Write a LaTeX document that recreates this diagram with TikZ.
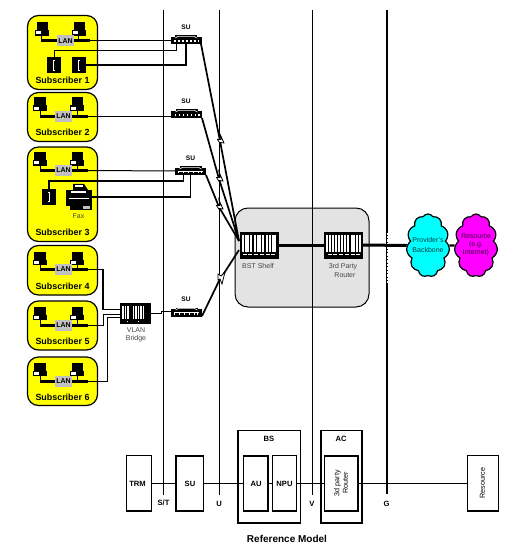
\documentclass[tikz,border=0pt]{standalone}
\usepackage{fontspec}
\setmainfont{Liberation Sans}
\usetikzlibrary{shapes.symbols}
\definecolor{subyellow}{RGB}{255,255,0}
\definecolor{lanGray}{RGB}{192,192,192}
\definecolor{shelfGray}{RGB}{227,227,227}
\definecolor{cloudCyan}{RGB}{0,255,255}
\definecolor{cloudMag}{RGB}{255,0,255}
\definecolor{capGray}{RGB}{70,70,70}
\tikzset{
  x=1pt,y=-1pt,
  subbox/.style={draw=black,line width=1.2pt,fill=subyellow,rounded corners=11pt},
  subtitle/.style={font=\fontsize{8.9}{10}\selectfont\bfseries,inner sep=0},
  lanlabel/.style={fill=lanGray,font=\fontsize{7}{8}\selectfont\bfseries,inner sep=0,minimum width=17pt,minimum height=11pt},
  bus/.style={line width=3pt},
  wire/.style={line width=1pt},
  wirethick/.style={line width=1.6pt},
  refline/.style={line width=0.7pt},
  radiolink/.style={line width=1.7pt},
  boltshape/.style={draw=black,fill=white,line width=0.8pt},
  caption/.style={font=\fontsize{7}{8.2}\selectfont,text=capGray,inner sep=0,align=center},
  sulabel/.style={font=\fontsize{6.6}{7}\selectfont\bfseries,inner sep=0},
  refbox/.style={draw=black,fill=white,line width=1.1pt},
  refboxthick/.style={draw=black,fill=white,line width=1.7pt},
  reftext/.style={font=\fontsize{7.6}{8}\selectfont\bfseries,inner sep=0},
  cloudnode/.style={cloud,cloud puffs=11,cloud puff arc=115,aspect=0.68,draw=black,line width=1.2pt,inner sep=0,minimum width=43pt,minimum height=63pt},
  pc/.pic={
    \fill[black] (-5.5,-8) rectangle (6,0);
    \fill[black] (-7,0) rectangle (7,5.7);
    \fill[white] (-6,1.5) rectangle (-1,4.5);
  },
  phone/.pic={
    \fill[black] (-7,-8) rectangle (7,8);
    \draw[white,line width=0.8pt] (0.5,-5) -- (-1,-5) -- (-1,5) -- (0.5,5);
  },
  phonei/.pic={
    \fill[black] (-7,-8) rectangle (7,8);
    \draw[white,line width=0.7pt] (-1,-4.5) -- (1,-4.5) (0,-4.5) -- (0,4.5) (-1,4.5) -- (1,4.5);
  },
  suicon/.pic={
    \fill[black] (-15.5,-3) rectangle (15.5,4.5);
    \fill[black] (-11,-4.5) rectangle (11,-3);
    \draw[white,line width=0.6pt] (-11,-2) -- (-8,-3.6) -- (8,-3.6) -- (11,-2);
    \foreach \k in {-11,-7,-3,1,5,9,12.5} \fill[white] (\k-0.6,0.4) rectangle (\k+0.6,1.8);
  },
  suiconb/.pic={
    \fill[black] (-15.5,-3) rectangle (15.5,4.5);
    \fill[black] (-11,-4.5) rectangle (11,-3);
    \draw[white,line width=0.6pt] (-11,-2) -- (-8,-3.6) -- (8,-3.6) -- (11,-2);
    \fill[white] (-12,0) rectangle (12,1);
    \foreach \k in {-12,-7,-2,3,8,11} \fill[white] (\k-0.7,0) rectangle (\k+0.7,2.5);
  },
  rack/.pic={
    \fill[black] (-19.5,-13.5) rectangle (19.5,13.5);
    \foreach \k in {-16.2,-13.4,-10.6,-7.8,-4.2,-1.4,1.4,4.2,8,10.8,13.6,16.4}
      \fill[white] (\k-1,-11) rectangle (\k+1,6);
    \foreach \k in {-14,-9,-3,3,9,14} \fill[white] (\k-2,8.7) rectangle (\k+2,9.6);
  },
}
\begin{document}
\begin{tikzpicture}
\useasboundingbox (0,0) rectangle (512,553);
\fill[white] (0,0) rectangle (512,553);
% subscriber boxes
\path[subbox] (27.5,15.5) rectangle (97.5,89.5);
\path[subbox] (27.5,92.5) rectangle (97.5,141.5);
\path[subbox] (27.5,147) rectangle (97.5,241.5);
\path[subbox] (27.5,245.5) rectangle (97.5,295);
\path[subbox] (27.5,301) rectangle (97.5,350);
\path[subbox] (27.5,357) rectangle (97.5,405.5);
\node[subtitle] at (62.5,80) {Subscriber 1};
\node[subtitle] at (62.5,132) {Subscriber 2};
\node[subtitle] at (62.5,232) {Subscriber 3};
\node[subtitle] at (62.5,286) {Subscriber 4};
\node[subtitle] at (62.5,341) {Subscriber 5};
\node[subtitle] at (62.5,397) {Subscriber 6};
% shelf panel
\path[draw=black,line width=1pt,fill=shelfGray,rounded corners=13pt] (235,208) rectangle (369,307);
% reference lines
\coordinate (st0) at (163.5,10); \coordinate (st1) at (163.5,495);
\coordinate (u0) at (219.5,10); \coordinate (u1) at (219.5,495);
\coordinate (v0) at (312,10); \coordinate (v1) at (312,495);
\coordinate (g0) at (386.7,10); \coordinate (g1) at (386.7,494);
\draw[refline] (st0) -- (st1);
\draw[refline] (u0) -- (u1);
\draw[refline] (v0) -- (v1);
\draw[line width=2pt] (g0) -- (g1);
\draw[white,densely dotted,line width=0.4pt] (387.6,233) -- (387.6,283);
% PCs and LAN
\pic at (42,30) {pc}; \pic at (79,30) {pc};
\pic at (39.5,105.3) {pc}; \pic at (77,105.3) {pc};
\pic at (39.5,160) {pc}; \pic at (77,160) {pc};
\pic at (39.5,259.7) {pc}; \pic at (77,259.7) {pc};
\pic at (39.5,314.7) {pc}; \pic at (77,314.7) {pc};
\pic at (39.5,370.7) {pc}; \pic at (77,370.7) {pc};
\coordinate (b1l) at (41,41); \coordinate (b1r) at (90,41);
\coordinate (b2l) at (39.5,116.5); \coordinate (b2r) at (88,116.5);
\coordinate (b3l) at (39.5,170.5); \coordinate (b3r) at (88,170.5);
\coordinate (b4l) at (39.5,269.5); \coordinate (b4r) at (88,269.5);
\coordinate (b5l) at (39.5,325.5); \coordinate (b5r) at (88,325.5);
\coordinate (b6l) at (39.5,381); \coordinate (b6r) at (88,381);
\draw[bus] (b1l) -- (b1r); \draw[bus] (b2l) -- (b2r); \draw[bus] (b3l) -- (b3r);
\draw[bus] (b4l) -- (b4r); \draw[bus] (b5l) -- (b5r); \draw[bus] (b6l) -- (b6r);
\foreach \xa/\xb/\ya/\yb in {41.5/78/35/41, 40/77/110.5/116.5, 40/77/165/170.5, 40/77/265/269.5, 40/77/320/325.5, 40/77/376/381}
  \draw[wire] (\xa,\ya) -- (\xa,\yb) (\xb,\ya) -- (\xb,\yb);
\node[lanlabel] (lan1) at (65.5,41) {LAN};
\node[lanlabel] (lan2) at (63.5,116.5) {LAN};
\node[lanlabel] (lan3) at (63.5,170.5) {LAN};
\node[lanlabel] (lan4) at (63.5,269.5) {LAN};
\node[lanlabel] (lan5) at (63.5,325.5) {LAN};
\node[lanlabel] (lan6) at (63.5,381) {LAN};
% phones and fax
\pic at (54,65) {phone}; \pic at (79,65) {phone};
\pic at (49,197) {phonei};
\coordinate (ph1) at (54,57); \coordinate (ph2) at (86,65); \coordinate (ph3) at (49,189);
\fill[black] (66,190) rectangle (92,206);
\fill[black] (73,184) -- (84,184) -- (88,190) -- (73,190) -- cycle;
\fill[white] (75,185.5) rectangle (83,187);
\fill[white] (71,191.5) rectangle (86,193);
\fill[white] (69,198) rectangle (89,199);
\fill[black] (70,206) rectangle (92,210);
\fill[lanGray] (83,205.5) rectangle (90,209);
\coordinate (fx) at (92,197);
\node[caption] at (78.5,216.5) {Fax};
% SU units
\pic at (186,40) {suicon};
\pic at (186.5,114) {suicon};
\pic at (190.5,171) {suiconb};
\pic at (186.5,312) {suiconb};
\coordinate (su1) at (186,40); \coordinate (su2) at (186.5,114); \coordinate (su3) at (190.5,171); \coordinate (su4) at (186.5,312);
\node[sulabel] at (186,27) {SU};
\node[sulabel] at (186,101) {SU};
\node[sulabel] at (190.5,158) {SU};
\node[sulabel] at (186,299) {SU};
% access wires
\draw[wire] (b1r) -- (171,41);
\draw[wire] (ph1) |- (176,50.5) -- (176,44);
\draw[wirethick] (ph2) -- (186,65) -- (186,44);
\draw[wire] (b2r) -- (171,116.5);
\draw[wire] (b3r) -- (175,171);
\draw[wirethick] (ph3) |- (183.5,181) -- (183.5,175);
\draw[wirethick] (fx) -- (190.5,197) -- (190.5,175);
% VLAN bridge
\fill[black] (120,303) rectangle (151,324);
\foreach \k in {123,125.5,128,133.5,136,138.5,141,143.5}
  \fill[white] (\k-0.7,306) rectangle (\k+0.7,319);
\fill[white] (127,320.5) rectangle (128,322); \fill[white] (138,320.5) rectangle (139,322);
\coordinate (vl1) at (120,309.5); \coordinate (vl2) at (120,314); \coordinate (vl3) at (120,317);
\node[caption] at (136,335) {VLAN\\Bridge};
\draw[wirethick] (b4r) -- (103,269.5) -- (103,309.5) -- (vl1);
\draw[wire] (b5r) -- (103.5,325.5) -- (103.5,314) -- (vl2);
\draw[wire] (b6r) -- (107.5,381) -- (107.5,317) -- (vl3);
\draw[wire] (151,313) -- (161,313) -- (161,311.5) -- (171,311.5);
% racks
\pic at (259,245.5) {rack};
\pic at (343.5,245.5) {rack};
\coordinate (bst) at (239.5,245); \coordinate (bstE) at (278,245);
\coordinate (rtW) at (324,245); \coordinate (rtE) at (363,245);
\node[caption] at (258,265.5) {BST Shelf};
\node[caption] at (343,270.5) {3rd Party\\\ \ Router};
% backbone
\node[cloudnode,fill=cloudCyan] (back) at (428,245.5) {};
\node[cloudnode,fill=cloudMag] (res) at (476,245.5) {};
\draw[line width=3pt] (bstE) -- (rtW);
\draw[line width=3pt] (rtE) -- (back.west);
\draw[line width=2.2pt] (back.east) -- (res.west);
\node[caption,text=black!75!cloudCyan] at (428,245) {Provider's\\[1pt]Backbone};
\node[caption,text=black!75!cloudMag] at (476,245) {Resource\\(e.g.\\Internet)};
% radio links with bolts
\foreach \a/\b/\cx/\cy in {201/44/220/141, 202/118/219/179, 206/175/219/207} {
  \draw[radiolink] (\a,\b) -- (\cx,\cy) -- (239,241);
  \path[boltshape] (\cx-2.5,\cy-1.5) -- (\cx+1,\cy-1.5) -- (\cx,\cy-7) -- (\cx+4,\cy+2) -- (\cx+0.5,\cy+1.5) -- (\cx+0.5,\cy+3) -- cycle;
}
\draw[radiolink] (202,316) -- (219,281) -- (239,250);
\path[boltshape] (218,274) -- (221,276) -- (225,272) -- (222,284) -- (220,279) -- (218,280) -- cycle;
% reference model
\path[refboxthick] (237.8,430.5) rectangle (300.5,523);
\path[refboxthick] (320.8,430.5) rectangle (362.3,523);
\draw[refline] (151,483.3) -- (468,483.3);
\path[refbox] (126.8,455.7) rectangle (151.5,511);
\path[refboxthick] (176,455.7) rectangle (203.5,511);
\path[refboxthick] (243.5,455.7) rectangle (268.3,511);
\path[refbox] (272.3,455.7) rectangle (296.7,511);
\path[refboxthick] (324.5,455.7) rectangle (357.7,511);
\path[refbox] (467.3,455.7) rectangle (498.3,511);
\node[reftext] at (137.5,483.5) {TRM};
\node[reftext] at (190,483.5) {SU};
\node[reftext] at (256,483.5) {AU};
\node[reftext] at (284.5,483.5) {NPU};
\node[reftext] at (269,438.5) {BS};
\node[reftext] at (341,438.5) {AC};
\node[font=\fontsize{7.2}{8.4}\selectfont,inner sep=0,rotate=90,align=center] at (341,483) {3d party\\Router};
\node[font=\fontsize{7.2}{8}\selectfont,inner sep=0,rotate=90] at (482.5,483) {Resource};
\node[reftext] at (163.5,503) {S/T};
\node[reftext] at (219,504) {U};
\node[reftext] at (312,503.5) {V};
\node[reftext] at (386.5,504) {G};
\node[font=\fontsize{10}{11}\selectfont\bfseries,inner sep=0] at (287,539) {Reference Model};
\end{tikzpicture}
\end{document}
